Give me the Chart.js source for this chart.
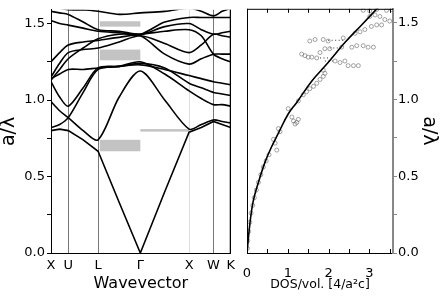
<!DOCTYPE html>
<html>
<head>
<meta charset="utf-8">
<script src="https://cdn.jsdelivr.net/npm/chart.js@4.4.1/dist/chart.umd.min.js"></script>
<style>
  html, body { margin: 0; padding: 0; background: #fff; }
  #wrap { position: relative; width: 443px; height: 299px; overflow: hidden; }
  #bands { position: absolute; left: 0; top: 0; }
  #dos { position: absolute; left: 236px; top: 0; }
</style>
</head>
<body>
<div id="wrap">
  <canvas id="bands" width="240" height="299" style="width:240px;height:299px"></canvas>
  <canvas id="dos" width="207" height="299" style="width:207px;height:299px"></canvas>
</div>
<script>
// k-path: X U L Γ X W K, with one midpoint per segment
const kPath = [0, 0.177, 0.354, 0.66, 0.966, 1.399, 1.832, 2.332, 2.832, 3.082, 3.332, 3.509, 3.686];
const kTicks = [0, 0.354, 0.966, 1.832, 2.832, 3.332, 3.686];
const kLabels = ["X", "U", "L", "Γ", "X", "W", "K"];
const kLineColors = ["rgba(0,0,0,0)", "#777", "#777", "rgba(0,0,0,0)", "#ddd", "#777", "#000"];

// band frequencies (a/λ) at each kPath point
const band1 = [0.80, 0.81, 0.80, 0.74, 0.665, 0.33, 0.00, 0.40, 0.79, 0.82, 0.86, 0.84, 0.82];
const band2 = [0.99, 0.93, 0.885, 0.80, 0.74, 1.02, 1.19, 1.00, 0.81, 0.84, 0.87, 0.86, 0.85];
const band3 = [0.82, 0.84, 0.885, 1.05, 1.20, 1.22, 1.25, 1.17, 1.06, 1.01, 0.97, 0.97, 0.96];
const band4 = [1.12, 1.02, 0.96, 1.08, 1.21, 1.22, 1.24, 1.21, 1.11, 1.08, 1.05, 1.04, 1.03];
const band5 = [1.14, 1.17, 1.20, 1.20, 1.21, 1.22, 1.23, 1.20, 1.16, 1.14, 1.12, 1.11, 1.10];
const band6 = [1.25, 1.31, 1.36, 1.38, 1.39, 1.41, 1.42, 1.30, 1.235, 1.27, 1.30, 1.30, 1.30];
const band7 = [1.52, 1.50, 1.49, 1.47, 1.45, 1.44, 1.43, 1.51, 1.54, 1.54, 1.54, 1.54, 1.54];
const band8 = [1.15, 1.24, 1.31, 1.33, 1.34, 1.38, 1.42, 1.37, 1.31, 1.36, 1.43, 1.42, 1.41];
const band9 = [1.58, 1.57, 1.56, 1.51, 1.46, 1.45, 1.43, 1.48, 1.50, 1.46, 1.43, 1.44, 1.45];
const band10 = [1.60, 1.60, 1.59, 1.59, 1.58, 1.56, 1.57, 1.58, 1.60, 1.58, 1.55, 1.58, 1.60];
const band11 = [1.13, 1.20, 1.27, 1.34, 1.40, 1.43, 1.43, 1.45, 1.46, 1.42, 1.30, 1.27, 1.25];
const bands = [band1, band2, band3, band4, band5, band6, band7, band8, band9, band10, band11];

// stop gaps (grey bars)
const gapFrom = [1.00, 1.00, 1.00, 1.832];
const gapTo = [1.832, 1.832, 1.832, 2.832];
const gapLow = [0.665, 1.26, 1.48, 0.795];
const gapHigh = [0.74, 1.33, 1.515, 0.81];

const freqTicks = [0, 0.25, 0.5, 0.75, 1.0, 1.25, 1.5];

// DOS panel
const fitDos = [0, 0.07, 0.15, 0.28, 0.44, 0.60, 0.77, 1.01, 1.22, 1.59, 1.99, 2.40, 2.81, 3.22];
const fitFreq = [0, 0.19, 0.335, 0.46, 0.59, 0.69, 0.78, 0.905, 0.98, 1.12, 1.24, 1.37, 1.485, 1.60];

const measDos = [0.01, 0.02, 0.04, 0.07, 0.10, 0.14, 0.18, 0.23, 0.28, 0.34, 0.40, 0.47, 0.54, 0.65, 0.69, 0.73,
  0.77, 0.81, 1.01, 1.10, 1.14, 1.22, 1.18, 1.26, 1.26, 1.38, 1.46, 1.54, 1.63, 1.71, 1.79, 1.87, 1.91, 1.87,
  2.16, 2.28, 2.40, 2.48, 2.61, 2.73,
  1.34, 1.42, 1.50, 1.59, 1.71, 1.79,
  1.91, 2.03, 2.32, 2.57, 2.69, 2.85, 2.97, 3.10,
  1.54, 1.67, 1.87, 1.99, 2.36,
  2.65, 2.77, 2.89, 3.05, 3.18, 3.30, 3.01, 3.14, 3.26, 3.38, 3.50, 2.85, 3.01, 3.18, 3.42, 3.55];
const measFreq = [0.03, 0.08, 0.14, 0.20, 0.26, 0.31, 0.36, 0.41, 0.46, 0.51, 0.56, 0.60, 0.64, 0.74, 0.715, 0.67,
  0.81, 0.79, 0.94, 0.885, 0.86, 0.85, 0.84, 0.87, 0.99, 1.03, 1.05, 1.07, 1.085, 1.105, 1.13, 1.15, 1.17, 1.19,
  1.25, 1.24, 1.25, 1.22, 1.22, 1.22,
  1.295, 1.285, 1.275, 1.275, 1.27, 1.305,
  1.33, 1.33, 1.34, 1.34, 1.35, 1.35, 1.34, 1.34,
  1.38, 1.39, 1.39, 1.38, 1.40,
  1.43, 1.44, 1.455, 1.475, 1.485, 1.485, 1.54, 1.55, 1.54, 1.52, 1.51, 1.58, 1.575, 1.585, 1.58, 1.585];

// dotted connectors between measured clusters: [dosStart, dosEnd, freq]
const dotStart = [1.99, 2.03, 1.79, 1.91];
const dotEnd = [2.36, 2.32, 2.05, 2.16];
const dotFreq = [1.385, 1.335, 1.27, 1.25];

const font13 = { family: "DejaVu Sans", size: 13 };

const framePlugin = {
  id: "frame",
  afterDatasetsDraw(chart, args, opts) {
    const { ctx, chartArea: a } = chart;
    ctx.save();
    ctx.strokeStyle = "#000";
    ctx.lineWidth = 1;
    ctx.beginPath();
    (opts.sides || []).forEach(s => {
      if (s === "left") { ctx.moveTo(a.left + 0.5, a.top); ctx.lineTo(a.left + 0.5, a.bottom); }
      if (s === "right") { ctx.moveTo(a.right - 0.5, a.top); ctx.lineTo(a.right - 0.5, a.bottom); }
      if (s === "top") { ctx.moveTo(a.left, a.top + 0.5); ctx.lineTo(a.right, a.top + 0.5); }
    });
    ctx.stroke();
    // inward ticks on top/bottom
    (opts.innerTicks || []).forEach(v => {
      const x = Math.round(chart.scales.x.getPixelForValue(v)) + 0.5;
      ctx.beginPath();
      ctx.moveTo(x, a.bottom); ctx.lineTo(x, a.bottom - 4);
      ctx.moveTo(x, a.top); ctx.lineTo(x, a.top + 4);
      ctx.stroke();
    });
    ctx.restore();
  }
};

const gapPlugin = {
  id: "gaps",
  beforeDatasetsDraw(chart) {
    const { ctx, scales: { x, y } } = chart;
    ctx.save();
    ctx.fillStyle = "#c3c3c3";
    gapLow.forEach((lo, i) => {
      const x0 = x.getPixelForValue(gapFrom[i]), x1 = x.getPixelForValue(gapTo[i]);
      const y0 = y.getPixelForValue(gapHigh[i]), y1 = y.getPixelForValue(lo);
      ctx.fillRect(x0, y0, x1 - x0, Math.max(y1 - y0, 2.5));
    });
    ctx.restore();
  }
};

new Chart(document.getElementById("bands"), {
  type: "line",
  plugins: [gapPlugin, framePlugin],
  data: {
    datasets: bands.map((b, i) => ({
      data: kPath.map((k, j) => ({ x: k, y: b[j] })),
      borderColor: "#000",
      borderWidth: 1.6,
      pointRadius: 0,
      tension: i === 0 ? 0 : 0.3
    }))
  },
  options: {
    responsive: false,
    animation: false,
    layout: { padding: { top: 2, right: 6, left: 0, bottom: 0 } },
    plugins: { legend: { display: false }, tooltip: { enabled: false }, frame: { sides: ["right"] } },
    scales: {
      x: {
        type: "linear", min: 0, max: 3.686,
        afterBuildTicks: s => { s.ticks = kTicks.map(v => ({ value: v })); },
        afterFit: s => { s.height = 46; },
        ticks: { callback: (v, i) => kLabels[i], color: "#000", font: font13, padding: 5, maxRotation: 0, autoSkip: false },
        grid: { color: c => kLineColors[c.index], lineWidth: 1, drawTicks: false },
        border: { color: "#000", width: 1 },
        title: { display: true, text: "Wavevector", color: "#000", font: { family: "DejaVu Sans", size: 16 }, padding: { top: 0, bottom: 6 } }
      },
      y: {
        min: 0, max: 1.59,
        afterBuildTicks: s => { s.ticks = freqTicks.map(v => ({ value: v })); },
        afterFit: s => { s.width = 51; },
        ticks: { callback: v => (Math.abs(v * 2 - Math.round(v * 2)) < 1e-6 ? v.toFixed(1) : ""), color: "#000", font: font13, padding: 2 },
        grid: { drawOnChartArea: false, color: "#000", tickLength: 4 },
        border: { color: "#000", width: 1 },
        title: { display: true, text: "a/λ", color: "#000", font: { family: "DejaVu Sans", size: 19, lineHeight: 1 }, padding: 0 }
      }
    }
  }
});

new Chart(document.getElementById("dos"), {
  type: "line",
  plugins: [framePlugin],
  data: {
    datasets: [
      {
        data: fitDos.map((d, i) => ({ x: d, y: fitFreq[i] })),
        borderColor: "#000", borderWidth: 1.6, pointRadius: 0, tension: 0.4
      },
      {
        data: dotStart.flatMap((d, i) => [{ x: d, y: dotFreq[i] }, { x: dotEnd[i], y: dotFreq[i] }, { x: dotEnd[i], y: null }]),
        borderColor: "#333", borderWidth: 1, borderDash: [1, 2.5], pointRadius: 0, spanGaps: false
      },
      {
        data: measDos.map((d, i) => ({ x: d, y: measFreq[i] })),
        showLine: false, pointRadius: 2, pointBorderWidth: 0.6,
        pointBorderColor: "#666", pointBackgroundColor: "rgba(255,255,255,0)"
      }
    ]
  },
  options: {
    responsive: false,
    animation: false,
    layout: { padding: { top: 2, right: 0, left: 11, bottom: 0 } },
    plugins: { legend: { display: false }, tooltip: { enabled: false }, frame: { sides: ["left", "top"], innerTicks: [0.5, 1, 1.5, 2, 2.5, 3, 3.5] } },
    scales: {
      x: {
        type: "linear", min: 0, max: 3.58,
        afterBuildTicks: s => { s.ticks = [0, 1, 2, 3].map(v => ({ value: v })); },
        afterFit: s => { s.height = 46; },
        ticks: { color: "#000", font: font13, padding: 5, maxRotation: 0 },
        grid: { display: false },
        border: { color: "#000", width: 1 },
        title: { display: true, text: "DOS/vol. [4/a²c]", color: "#000", font: { family: "DejaVu Sans", size: 12.5 }, padding: { top: 0, bottom: 7 } }
      },
      y: {
        position: "right",
        min: 0, max: 1.59,
        afterBuildTicks: s => { s.ticks = freqTicks.map(v => ({ value: v })); },
        afterFit: s => { s.width = 50; },
        ticks: { callback: v => (Math.abs(v * 2 - Math.round(v * 2)) < 1e-6 ? v.toFixed(1) : ""), color: "#000", font: font13, padding: 1 },
        grid: { drawOnChartArea: false, color: "#888", tickLength: 4 },
        border: { color: "#888", width: 2 },
        title: { display: true, text: "a/λ", color: "#000", font: { family: "DejaVu Sans", size: 19, lineHeight: 1 }, padding: 5 }
      }
    }
  }
});
</script>
</body>
</html>
